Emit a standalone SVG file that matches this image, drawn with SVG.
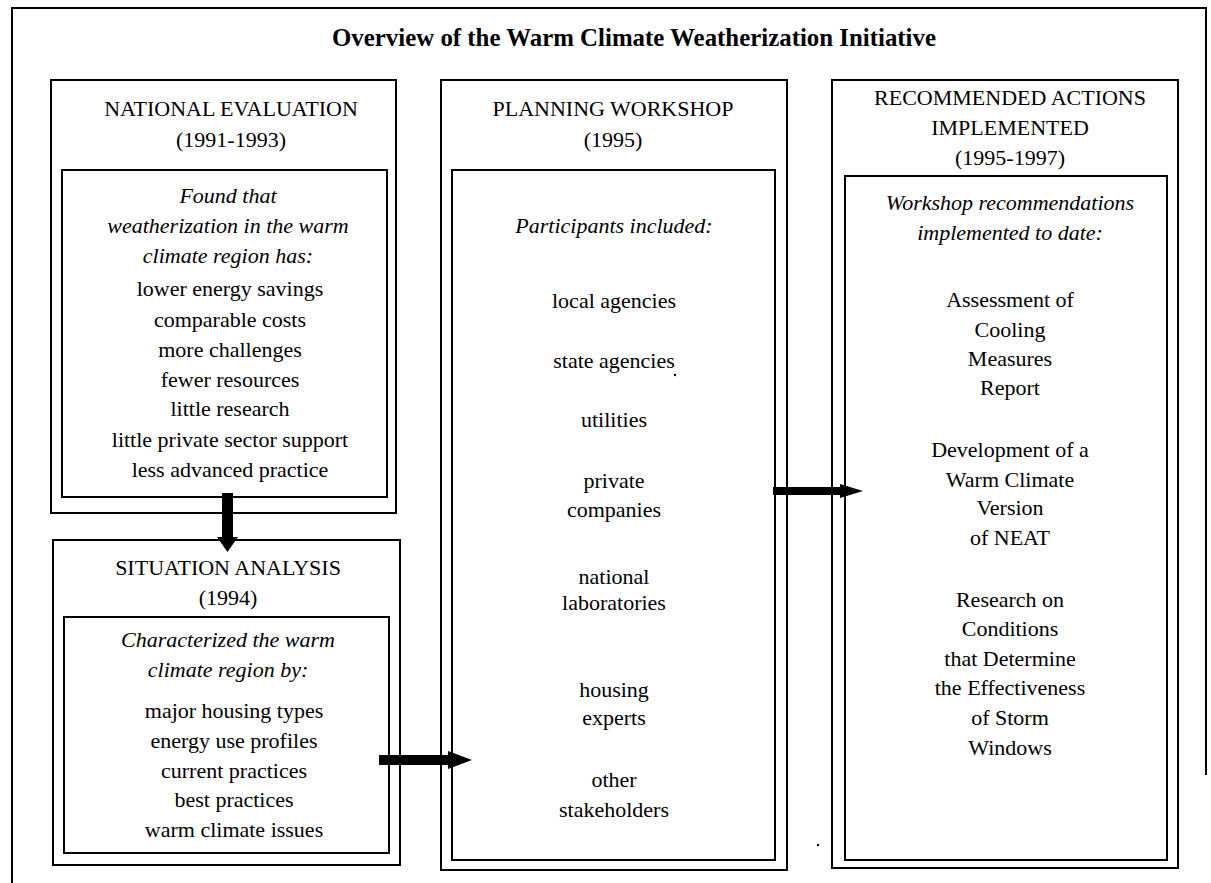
<svg xmlns="http://www.w3.org/2000/svg" width="1211" height="883" viewBox="0 0 1211 883">
<style>
text{font-family:"Liberation Serif","Times New Roman",serif;font-size:22px;fill:#000;text-anchor:middle}
.title{font-weight:bold;font-size:26px}
.it{font-style:italic}
.box{fill:none;stroke:#000;stroke-width:2}
.frame{fill:none;stroke:#000;stroke-width:2}
</style>
<rect width="1211" height="883" fill="#fff"/>
<path class="frame" d="M12,883 V8 H1206 V775"/>
<text class="title" x="634" y="46" textLength="604" lengthAdjust="spacingAndGlyphs">Overview of the Warm Climate Weatherization Initiative</text>

<g id="national-evaluation">
<rect class="box" x="51" y="80" width="345" height="433"/>
<rect class="box" x="62" y="170" width="325" height="327"/>
<text x="231" y="116">NATIONAL EVALUATION</text>
<text x="231" y="147">(1991-1993)</text>
<text class="it" x="228" y="203">Found that</text>
<text class="it" x="228" y="233">weatherization in the warm</text>
<text class="it" x="228" y="263">climate region has:</text>
<text x="230" y="296">lower energy savings</text>
<text x="230" y="327">comparable costs</text>
<text x="230" y="357">more challenges</text>
<text x="230" y="387">fewer resources</text>
<text x="230" y="416">little research</text>
<text x="230" y="447">little private sector support</text>
<text x="230" y="477">less advanced practice</text>
</g>

<g id="situation-analysis">
<rect class="box" x="53" y="540" width="347" height="325"/>
<rect class="box" x="64" y="617" width="325" height="236"/>
<text x="228" y="575">SITUATION ANALYSIS</text>
<text x="228" y="605">(1994)</text>
<text class="it" x="228" y="647">Characterized the warm</text>
<text class="it" x="228" y="677">climate region by:</text>
<text x="234" y="718">major housing types</text>
<text x="234" y="748">energy use profiles</text>
<text x="234" y="778">current practices</text>
<text x="234" y="807">best practices</text>
<text x="234" y="837">warm climate issues</text>
</g>

<g id="planning-workshop">
<rect class="box" x="441" y="80" width="346" height="790"/>
<rect class="box" x="452" y="170" width="323" height="690"/>
<text x="613" y="116">PLANNING WORKSHOP</text>
<text x="613" y="147">(1995)</text>
<text class="it" x="614" y="233">Participants included:</text>
<text x="614" y="308">local agencies</text>
<text x="614" y="368">state agencies</text>
<text x="614" y="427">utilities</text>
<text x="614" y="488">private</text>
<text x="614" y="517">companies</text>
<text x="614" y="584">national</text>
<text x="614" y="610">laboratories</text>
<text x="614" y="697">housing</text>
<text x="614" y="725">experts</text>
<text x="614" y="787">other</text>
<text x="614" y="817">stakeholders</text>
<circle cx="675" cy="375" r="1.2" fill="#000"/>
</g>

<g id="recommended-actions">
<rect class="box" x="832" y="80" width="346" height="788"/>
<rect class="box" x="845" y="176" width="322" height="684"/>
<text x="1010" y="105">RECOMMENDED ACTIONS</text>
<text x="1010" y="135">IMPLEMENTED</text>
<text x="1010" y="165">(1995-1997)</text>
<text class="it" x="1010" y="210">Workshop recommendations</text>
<text class="it" x="1010" y="240">implemented to date:</text>
<text x="1010" y="307">Assessment of</text>
<text x="1010" y="337">Cooling</text>
<text x="1010" y="366">Measures</text>
<text x="1010" y="395">Report</text>
<text x="1010" y="457">Development of a</text>
<text x="1010" y="487">Warm Climate</text>
<text x="1010" y="515">Version</text>
<text x="1010" y="545">of NEAT</text>
<text x="1010" y="607">Research on</text>
<text x="1010" y="636">Conditions</text>
<text x="1010" y="666">that Determine</text>
<text x="1010" y="695">the Effectiveness</text>
<text x="1010" y="725">of Storm</text>
<text x="1010" y="755">Windows</text>
</g>

<g id="connectors" fill="#000">
<polygon points="222,493 233,493 233,537 238,537 227.5,552 217,537 222,537"/>
<polygon points="379,755 448,755 448,751 472,760 448,769 448,765 379,765"/>
<polygon points="773,487 840,487 840,484 863,491 840,498 840,495 773,495"/>
<circle cx="818" cy="845" r="1.2"/>
</g>
</svg>
